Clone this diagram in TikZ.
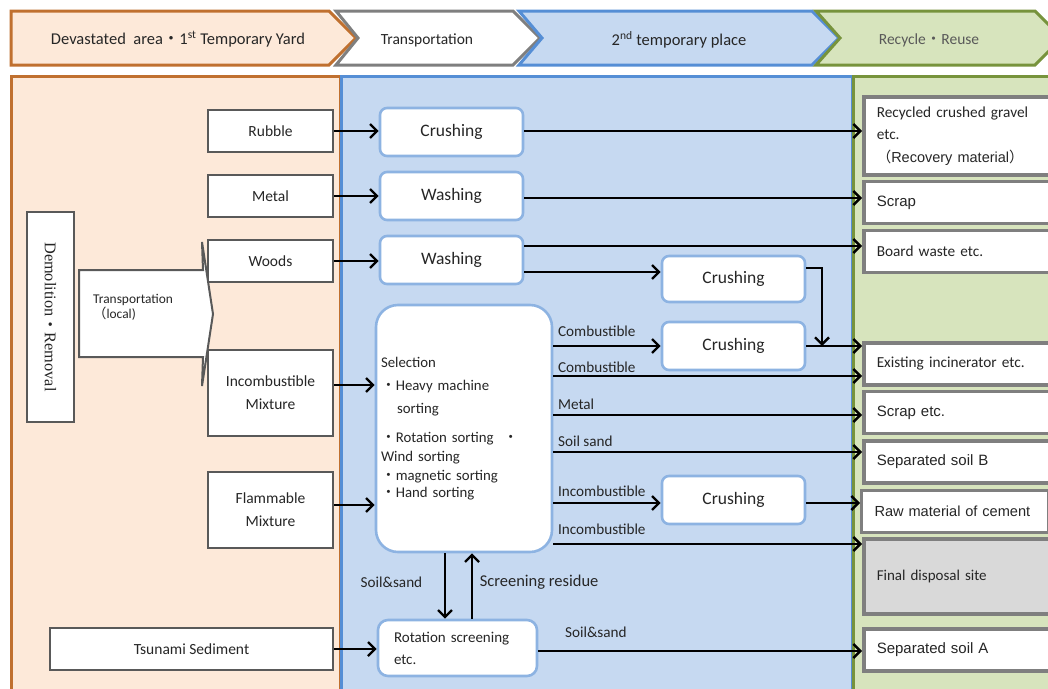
\documentclass[tikz,border=0pt]{standalone}
\usepackage{fontspec}
\setmainfont{Carlito}
\newfontfamily\arialf{Liberation Sans}
\newfontfamily\serf{Liberation Serif}
\newfontfamily\cjk{Noto Sans CJK JP}
\usetikzlibrary{arrows.meta,calc}
\definecolor{orB}{HTML}{C0702F}
\definecolor{orF}{HTML}{FDE9D9}
\definecolor{blB}{HTML}{558ED5}
\definecolor{blF}{HTML}{C6D9F1}
\definecolor{grB}{HTML}{77933C}
\definecolor{grF}{HTML}{D7E4BD}
\definecolor{hdgray}{HTML}{7F7F7F}
\definecolor{boxgray}{HTML}{595959}
\definecolor{gbox}{HTML}{7F7F7F}
\definecolor{nodeB}{HTML}{8DB3E2}
\definecolor{finalF}{HTML}{D9D9D9}
\definecolor{txt}{HTML}{262626}
\newcommand\dt{{\cjk ・}}
\tikzset{
  leftbox/.style={draw=boxgray, line width=2pt, fill=white, minimum width=125pt,
    minimum height=42pt, inner sep=0pt, align=center, text=txt,
    font=\fontsize{15.5}{23}\selectfont},
  bluebox/.style={draw=nodeB, line width=2.6pt, fill=white, rounded corners=7pt,
    minimum width=143pt, minimum height=48pt, inner sep=0pt, text=txt,
    font=\fontsize{17.5}{19}\selectfont},
  greenbox/.style={draw=gbox, line width=3.5pt, fill=white, anchor=west,
    minimum height=42pt, text width=170pt, inner xsep=13pt, align=left, text=txt,
    font=\fontsize{15.3}{22.5}\selectfont},
  conn/.style={draw=black, line width=1.5pt,
    -{Straight Barb[length=7pt,width=14pt,line width=2.4pt]}},
  lab/.style={font=\fontsize{15.2}{17}\selectfont, text=txt, anchor=south west,
    inner xsep=4pt, inner ysep=4pt},
  hdr/.style={font=\fontsize{16.5}{18}\selectfont, text=txt},
}
\begin{document}
\begin{tikzpicture}[x=1pt,y=-1pt]
\clip (0,0) rectangle (1048,688);
\useasboundingbox (0,0) rectangle (1048,688);
\fill[white] (0,0) rectangle (1048,688);
% panels
\draw[orB, line width=3pt, fill=orF] (11,76) rectangle (340,700);
\draw[blB, line width=3pt, fill=blF] (341,76) rectangle (852,700);
\draw[grB, line width=3pt, fill=grF] (853,76) rectangle (1070,700);
% header chevrons
\draw[orB, line width=3pt, fill=orF] (11,11) -- (329,11) -- (356,38) -- (329,65) -- (11,65) -- cycle;
\draw[hdgray, line width=3pt, fill=white] (336,11) -- (513,11) -- (540,38) -- (513,65) -- (336,65) -- (358,38) -- cycle;
\draw[blB, line width=3pt, fill=blF] (519,11) -- (812,11) -- (839,38) -- (812,65) -- (519,65) -- (542,38) -- cycle;
\draw[grB, line width=3pt, fill=grF] (816,11) -- (1035,11) -- (1062,38) -- (1035,65) -- (816,65) -- (840,38) -- cycle;
\node[hdr] (h1) at (178,39) {Devastated\ \ area\dt 1\textsuperscript{st} Temporary Yard};
\node[hdr, font=\fontsize{15.5}{17}\selectfont] (h2) at (427,40) {Transportation};
\node[hdr] (h3) at (679,40) {2\textsuperscript{nd} temporary place};
\node[hdr, text=boxgray, font=\fontsize{15.5}{17}\selectfont] (h4) at (929,40) {Recycle\dt Reuse};
% transportation local arrow
\draw[boxgray, line width=2pt, fill=white] (79,270) -- (203,270) -- (202,242) -- (213,314) -- (202,386) -- (203,357) -- (79,357) -- cycle;
\node[anchor=west, align=left, text=txt, font=\fontsize{13.4}{15}\selectfont, inner sep=0pt] (tloc) at (93,307) {Transportation\\{\cjk （}local)};
% demolition
\node[draw=boxgray, line width=2pt, fill=white, rotate=-90, minimum width=210pt, minimum height=47pt, text=txt,
  font=\serf\fontsize{16.3}{18}\selectfont] (demo) at (50.5,317) {Demolition\dt Removal};
% left boxes
\node[leftbox] (rubble) at (270.5,131) {Rubble};
\node[leftbox] (metal) at (270.5,196) {Metal};
\node[leftbox] (woods) at (270.5,261) {Woods};
\node[leftbox, minimum height=86pt] (incomb) at (270.5,393) {Incombustible\\Mixture};
\node[leftbox, minimum height=76pt] (flam) at (270.5,510) {Flammable\\Mixture};
\node[leftbox, minimum width=283pt] (tsunami) at (191.5,649) {Tsunami Sediment};
% blue boxes
\node[bluebox] (cr1) at (451.5,132) {Crushing};
\node[bluebox] (wa1) at (451.5,196) {Washing};
\node[bluebox] (wa2) at (451.5,260) {Washing};
\node[bluebox, minimum height=46pt] (cr2) at (733.5,279) {Crushing};
\node[bluebox] (cr3) at (733.5,346) {Crushing};
\node[bluebox] (cr4) at (733.5,500) {Crushing};
\node[draw=nodeB, line width=2.6pt, fill=white, rounded corners=22pt, minimum width=176pt, minimum height=247pt,
  text width=166pt, inner xsep=5pt, align=left, text=txt, font=\fontsize{14.8}{19}\selectfont] (sel) at (464,428.5)
  {Selection\\[4pt]
   \dt Heavy machine\\[4pt]
   \hspace*{16pt}sorting\\[10pt]
   \dt Rotation sorting\ \ \dt\\
   Wind sorting\\
   \dt magnetic sorting\\[-2pt]
   \dt Hand sorting};
\node[draw=nodeB, line width=2.6pt, fill=white, rounded corners=10pt, minimum width=159pt, minimum height=56pt,
  text width=127pt, inner xsep=16pt, align=left, text=txt, font=\fontsize{15}{22}\selectfont] (rot) at (457.5,648)
  {Rotation screening\\etc.};
% green boxes
\node[greenbox, minimum height=78pt] (recyc) at (862,136) {Recycled crushed gravel\\etc.\\{\arialf\fontsize{14.5}{22.5}\selectfont{\cjk （}Recovery material{\cjk ）}}};
\node[greenbox, font=\arialf\fontsize{15}{17}\selectfont] (scrap) at (862,202.5) {Scrap};
\node[greenbox] (board) at (862,251.5) {Board waste etc.};
\node[greenbox] (incin) at (862,364) {Existing incinerator etc.};
\node[greenbox, font=\arialf\fontsize{15}{17}\selectfont] (scrap2) at (862,412.5) {Scrap etc.};
\node[greenbox, font=\arialf\fontsize{15}{17}\selectfont] (soilb) at (862,462) {Separated soil B};
\node[greenbox, line width=3pt, text width=161pt, inner xsep=13pt, font=\arialf\fontsize{14.6}{17}\selectfont] (cement) at (860,511) {\mbox{Raw material of cement}};
\node[greenbox, fill=finalF, minimum height=75pt, font=\fontsize{15}{17}\selectfont] (final) at (862,576.5) {Final disposal site};
\node[greenbox, font=\arialf\fontsize{15}{17}\selectfont] (soila) at (862,650) {Separated soil A};
% connectors left -> blue
\draw[conn] (rubble.east) -- (cr1.west |- rubble.east);
\draw[conn] (metal.east) -- (wa1.west |- metal.east);
\draw[conn] (woods.east) -- (wa2.west |- woods.east);
\draw[conn] (incomb.east |- 0,385) -- (sel.west |- 0,385);
\draw[conn] (flam.east |- 0,505) -- (sel.west |- 0,505);
\draw[conn] (tsunami.east) -- (rot.west |- tsunami.east);
% blue -> green
\draw[conn] (cr1.east |- 0,131) -- (recyc.west |- 0,131);
\draw[conn] (wa1.east |- 0,198) -- (scrap.west |- 0,198);
\draw[conn] (wa2.east |- 0,246) -- (board.west |- 0,246);
\draw[conn] (wa2.east |- 0,272) -- (cr2.west |- 0,272);
\coordinate (j1) at (822,346);
\draw[conn] (cr2.east |- 0,268) -| (j1);
\draw[conn] (cr3.east) -- (incin.west |- cr3.east);
\draw[conn] (sel.east |- 0,346) -- node[lab, at start, inner ysep=9pt] {Combustible} (cr3.west |- 0,346);
\draw[conn] (sel.east |- 0,376) -- node[lab, at start, inner ysep=3pt] {Combustible} (incin.west |- 0,376);
\draw[conn] (sel.east |- 0,415) -- node[lab, at start, inner ysep=5pt] {Metal} (scrap2.west |- 0,415);
\draw[conn] (sel.east |- 0,452) -- node[lab, at start, inner ysep=5pt] {Soil sand} (soilb.west |- 0,452);
\draw[conn] (sel.east |- 0,503) -- node[lab, at start, inner ysep=6pt] {Incombustible} (cr4.west |- 0,503);
\draw[conn] (cr4.east |- 0,503) -- (cement.west |- 0,503);
\draw[conn] (sel.east |- 0,544) -- node[lab, at start, inner ysep=9pt] {Incombustible} (final.west |- 0,544);
% selection <-> rotation
\draw[conn] (sel.south -| 445,0) -- node[lab, anchor=east, inner xsep=22pt, yshift=4pt] {Soil\&sand} (rot.north -| 445,0);
\draw[conn] (rot.north -| 472,0) -- node[lab, anchor=west, inner xsep=7pt, yshift=4pt, font=\fontsize{16.5}{18}\selectfont] {Screening residue} (sel.south -| 472,0);
\draw[conn] (rot.east |- 0,651) -- node[lab, at start, inner xsep=26pt, inner ysep=13pt] {Soil\&sand} (soila.west |- 0,651);
\end{tikzpicture}
\end{document}
